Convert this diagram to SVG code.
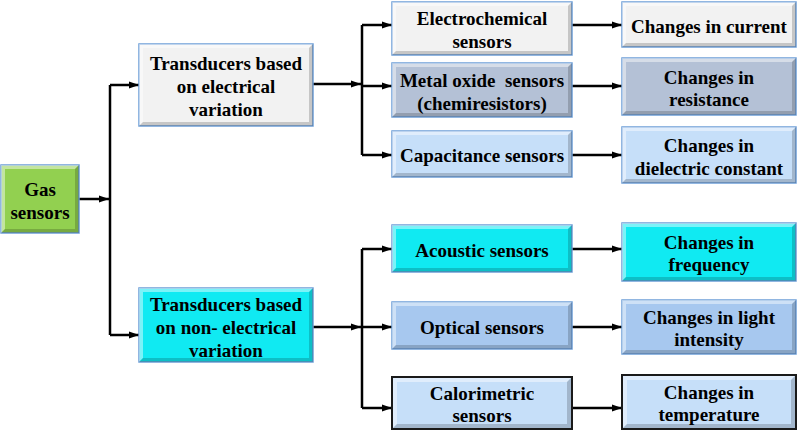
<svg xmlns="http://www.w3.org/2000/svg" width="797" height="430" viewBox="0 0 797 430">
<style>
  text { font-family: "Liberation Serif", "Times New Roman", serif; font-weight: bold; font-size: 19px; fill: #000; text-anchor: middle; dominant-baseline: central; }
  .box { stroke: #6e9fd8; stroke-width: 1.5; }
  .dark { stroke: #1a1a1a; stroke-width: 2; }
  .hi { fill: #ffffff; opacity: 0.45; }
  .sh { fill: #000000; opacity: 0.18; }
  .conn path { fill: none; stroke: #000; stroke-width: 2.5; }
  .green { fill: #92d050; }
  .grey { fill: #f2f2f2; }
  .slate { fill: #b4c1d6; }
  .lblue { fill: #c6dff9; }
  .cyan { fill: #10eaf2; }
  .mblue { fill: #a7c8ef; }
</style>
<defs>
  <marker id="ah" markerUnits="userSpaceOnUse" markerWidth="10" markerHeight="10" viewBox="0 0 10 10" refX="10" refY="5" orient="auto">
    <path d="M0,1.5 L10,5 L0,8.5 Z" fill="#000"/>
  </marker>
</defs>

<g id="connectors" class="conn">
  <path d="M79,199 H109" marker-end="url(#ah)"/>
  <path d="M110,85 V335"/>
  <path d="M110,85 H139" marker-end="url(#ah)"/>
  <path d="M110,335 H139" marker-end="url(#ah)"/>
  <path d="M313,84 H361" marker-end="url(#ah)"/>
  <path d="M362,25 V155"/>
  <path d="M362,25 H392" marker-end="url(#ah)"/>
  <path d="M362,86 H392" marker-end="url(#ah)"/>
  <path d="M362,155 H392" marker-end="url(#ah)"/>
  <path d="M313,327 H361" marker-end="url(#ah)"/>
  <path d="M362,249 V408"/>
  <path d="M362,249 H392" marker-end="url(#ah)"/>
  <path d="M362,327 H392" marker-end="url(#ah)"/>
  <path d="M362,408 H392" marker-end="url(#ah)"/>
  <path d="M572,25 H622" marker-end="url(#ah)"/>
  <path d="M572,86 H622" marker-end="url(#ah)"/>
  <path d="M572,155 H622" marker-end="url(#ah)"/>
  <path d="M572,249 H622" marker-end="url(#ah)"/>
  <path d="M572,327 H622" marker-end="url(#ah)"/>
  <path d="M572,408 H622" marker-end="url(#ah)"/>
</g>

<g id="gas-sensors">
  <rect class="box green" x="1" y="165" width="78" height="68"/>
  <path class="hi" d="M1,165 H79 L75,169 H5 V229 L1,233 Z"/>
  <path class="sh" d="M79,165 V233 H1 L5,229 H75 V169 Z"/>
  <text x="40" y="189">Gas</text>
  <text x="40" y="212">sensors</text>
</g>

<g id="transducers-electrical">
  <rect class="box grey" x="139" y="44" width="174" height="82"/>
  <path class="hi" d="M139,44 H313 L309,48 H143 V122 L139,126 Z"/>
  <path class="sh" d="M313,44 V126 H139 L143,122 H309 V48 Z"/>
  <text x="226" y="63">Transducers based</text>
  <text x="226" y="86">on electrical</text>
  <text x="226" y="109">variation</text>
</g>

<g id="transducers-non-electrical">
  <rect class="box cyan" x="139" y="288" width="174" height="74"/>
  <path class="hi" d="M139,288 H313 L309,292 H143 V358 L139,362 Z"/>
  <path class="sh" d="M313,288 V362 H139 L143,358 H309 V292 Z"/>
  <text x="226" y="304">Transducers based</text>
  <text x="226" y="327">on non- electrical</text>
  <text x="226" y="350">variation</text>
</g>

<g id="electrochemical">
  <rect class="box grey" x="392" y="2" width="180" height="53"/>
  <path class="hi" d="M392,2 H572 L568,6 H396 V51 L392,55 Z"/>
  <path class="sh" d="M572,2 V55 H392 L396,51 H568 V6 Z"/>
  <text x="482" y="18">Electrochemical</text>
  <text x="482" y="41">sensors</text>
</g>

<g id="metal-oxide">
  <rect class="box slate" x="392" y="63" width="180" height="54"/>
  <path class="hi" d="M392,63 H572 L568,67 H396 V113 L392,117 Z"/>
  <path class="sh" d="M572,63 V117 H392 L396,113 H568 V67 Z"/>
  <text x="482" y="80" xml:space="preserve">Metal oxide  sensors</text>
  <text x="482" y="103">(chemiresistors)</text>
</g>

<g id="capacitance">
  <rect class="box lblue" x="392" y="131" width="180" height="46"/>
  <path class="hi" d="M392,131 H572 L568,135 H396 V173 L392,177 Z"/>
  <path class="sh" d="M572,131 V177 H392 L396,173 H568 V135 Z"/>
  <text x="482" y="155">Capacitance sensors</text>
</g>

<g id="acoustic">
  <rect class="box cyan" x="392" y="225" width="180" height="47"/>
  <path class="hi" d="M392,225 H572 L568,229 H396 V268 L392,272 Z"/>
  <path class="sh" d="M572,225 V272 H392 L396,268 H568 V229 Z"/>
  <text x="482" y="250">Acoustic sensors</text>
</g>

<g id="optical">
  <rect class="box mblue" x="392" y="302" width="180" height="47"/>
  <path class="hi" d="M392,302 H572 L568,306 H396 V345 L392,349 Z"/>
  <path class="sh" d="M572,302 V349 H392 L396,345 H568 V306 Z"/>
  <text x="482" y="327">Optical sensors</text>
</g>

<g id="calorimetric">
  <rect class="dark lblue" x="392" y="377" width="180" height="52"/>
  <path class="hi" d="M393,378 H571 L567,382 H397 V424 L393,428 Z"/>
  <path class="sh" d="M571,378 V428 H393 L397,424 H567 V382 Z"/>
  <text x="482" y="393">Calorimetric</text>
  <text x="482" y="415">sensors</text>
</g>

<g id="changes-current">
  <rect class="box grey" x="622" y="2" width="174" height="45"/>
  <path class="hi" d="M622,2 H796 L792,6 H626 V43 L622,47 Z"/>
  <path class="sh" d="M796,2 V47 H622 L626,43 H792 V6 Z"/>
  <text x="709" y="26">Changes in current</text>
</g>

<g id="changes-resistance">
  <rect class="box slate" x="622" y="58" width="174" height="57"/>
  <path class="hi" d="M622,58 H796 L792,62 H626 V111 L622,115 Z"/>
  <path class="sh" d="M796,58 V115 H622 L626,111 H792 V62 Z"/>
  <text x="709" y="77">Changes in</text>
  <text x="709" y="99">resistance</text>
</g>

<g id="changes-dielectric">
  <rect class="box lblue" x="622" y="127" width="174" height="56"/>
  <path class="hi" d="M622,127 H796 L792,131 H626 V179 L622,183 Z"/>
  <path class="sh" d="M796,127 V183 H622 L626,179 H792 V131 Z"/>
  <text x="709" y="145">Changes in</text>
  <text x="709" y="168">dielectric constant</text>
</g>

<g id="changes-frequency">
  <rect class="box cyan" x="622" y="223" width="174" height="58"/>
  <path class="hi" d="M622,223 H796 L792,227 H626 V277 L622,281 Z"/>
  <path class="sh" d="M796,223 V281 H622 L626,277 H792 V227 Z"/>
  <text x="709" y="242">Changes in</text>
  <text x="709" y="264">frequency</text>
</g>

<g id="changes-light">
  <rect class="box mblue" x="622" y="300" width="174" height="54"/>
  <path class="hi" d="M622,300 H796 L792,304 H626 V350 L622,354 Z"/>
  <path class="sh" d="M796,300 V354 H622 L626,350 H792 V304 Z"/>
  <text x="709" y="317">Changes in light</text>
  <text x="709" y="339">intensity</text>
</g>

<g id="changes-temperature">
  <rect class="dark lblue" x="622" y="375" width="174" height="54"/>
  <path class="hi" d="M623,376 H795 L791,380 H627 V424 L623,428 Z"/>
  <path class="sh" d="M795,376 V428 H623 L627,424 H791 V380 Z"/>
  <text x="709" y="392">Changes in</text>
  <text x="709" y="414">temperature</text>
</g>
</svg>
